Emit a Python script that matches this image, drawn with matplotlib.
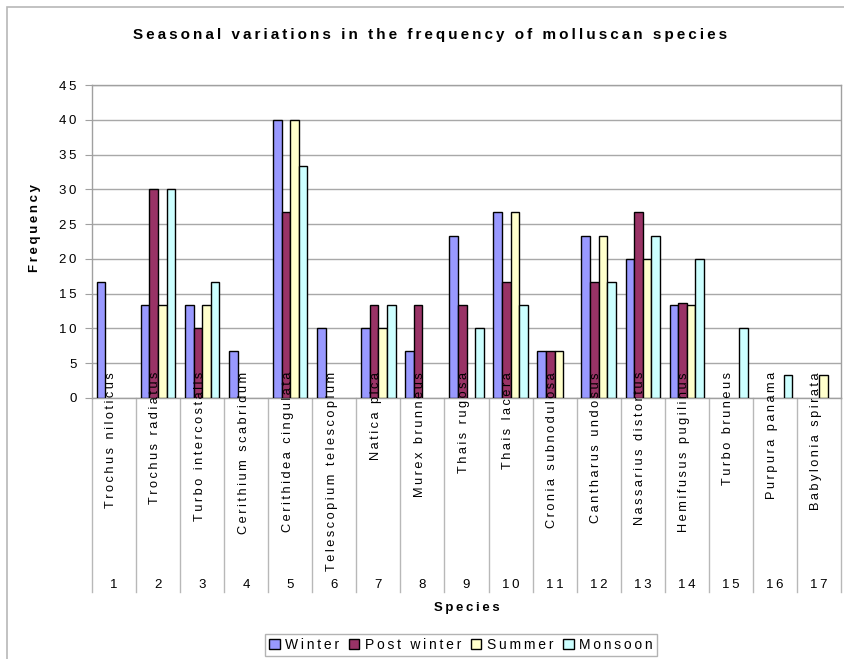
import matplotlib
matplotlib.use('Agg')
import matplotlib.pyplot as plt
import numpy as np
from matplotlib.patches import Rectangle, Patch
from matplotlib.lines import Line2D
import matplotlib.transforms as mtransforms

plt.rcParams['font.family'] = ['Liberation Sans', 'DejaVu Sans']

species = ['Trochus niloticus', 'Trochus radiatus', 'Turbo intercostalis',
           'Cerithium scabridum', 'Cerithidea cingulata', 'Telescopium telescopium',
           'Natica pica', 'Murex brunneus', 'Thais rugosa', 'Thais lacera',
           'Cronia subnodulosa', 'Cantharus undosus', 'Nassarius distortus',
           'Hemifusus pugilinus', 'Turbo bruneus', 'Purpura panama', 'Babylonia spirata']
numbers = [str(i) for i in range(1, 18)]

winter = [16.7, 13.3, 13.3, 6.7, 40, 10, 10, 6.7, 23.3, 26.7, 6.7, 23.3, 20, 13.3, 0, 0, 0]
post_winter = [0, 30, 10, 0, 26.7, 0, 13.3, 13.3, 13.3, 16.7, 6.7, 16.7, 26.7, 13.6, 0, 0, 0]
summer = [0, 13.3, 13.3, 0, 40, 0, 10, 0, 0, 26.7, 6.7, 23.3, 20, 13.3, 0, 0, 3.3]
monsoon = [0, 30, 16.7, 0, 33.3, 0, 13.3, 0, 10, 13.3, 0, 16.7, 23.3, 20, 10, 3.3, 0]

seasons = ['Winter', 'Post winter', 'Summer', 'Monsoon']
colors = ['#9999FF', '#993366', '#FFFFCC', '#CCFFFF']
yticks = [0, 5, 10, 15, 20, 25, 30, 35, 40, 45]

SP = '\u2009'


def spaced(s, sep=SP):
    return sep.join(list(s))


W, H = 844, 659
fig = plt.figure(figsize=(W / 100, H / 100), dpi=100)
ax = fig.add_axes([92 / W, 1 - 398 / H, (841 - 92) / W, (398 - 85) / H])

# outer chart border
fig.patches.append(Rectangle((7 / W, -0.05), 1.0, 1 - 7 / H + 0.05, transform=fig.transFigure,
                             fill=False, edgecolor='#b8b8b8', linewidth=1.2))

x = np.arange(len(species))
bw = 0.195
for k, (vals, c) in enumerate(zip([winter, post_winter, summer, monsoon], colors)):
    vals = np.array(vals, dtype=float)
    keep = vals > 0  # empty seasons are not drawn
    ax.bar(x[keep] + (k - 1.5) * bw, vals[keep], bw, color=c, edgecolor='black',
           linewidth=1.0, zorder=3)

ax.set_xlim(-0.5, len(species) - 0.5)
ax.set_ylim(0, 45)
ax.set_yticks(yticks)
ax.set_yticklabels([spaced(str(t)) for t in yticks], fontsize=9.5)
ax.set_xticks([])
ax.grid(axis='y', color='#a8a8a8', linewidth=1.0, zorder=0)
for s in ax.spines.values():
    s.set_color('#a0a0a0')
    s.set_linewidth(1.0)
ax.tick_params(axis='y', length=5, color='#a0a0a0', pad=6)

trans = mtransforms.blended_transform_factory(ax.transData, ax.transAxes)
# category separators
for b in np.arange(-0.5, len(species) + 0.5, 1):
    ax.add_line(Line2D([b, b], [0, -0.62], transform=trans, color='#b8b8b8',
                       linewidth=1.0, clip_on=False))
for i, name in enumerate(species):
    ax.text(i - 0.06, 0.083, spaced(name), transform=trans, rotation=90, ha='center', va='top',
            fontsize=9.2, zorder=5, clip_on=False)
    ax.text(i, -0.597, spaced(numbers[i]), transform=trans, ha='center', va='center',
            fontsize=9.5, clip_on=False)

ax.text(0.5, -0.67, spaced('Species'), transform=ax.transAxes, ha='center', va='center',
        fontsize=9.5, fontweight='bold')
fig.text(35 / W, 1 - 228 / H, spaced('Frequency'), rotation=90, ha='center', va='center',
         fontsize=9.5, fontweight='bold')
fig.text(430 / W, 1 - 35 / H, spaced('Seasonal variations in the frequency of molluscan species'),
         ha='center', va='center', fontsize=11, fontweight='bold')

handles = [Patch(facecolor=c, edgecolor='black', linewidth=1.0) for c in colors]
leg = fig.legend(handles, [spaced(s) for s in seasons], loc='center', ncol=4,
                 bbox_to_anchor=(461 / W, 1 - 645 / H), fontsize=10, frameon=True, fancybox=False,
                 edgecolor='#a0a0a0', handlelength=0.75, handleheight=0.75, handletextpad=0.4,
                 columnspacing=0.7, borderpad=0.3)
leg.get_frame().set_linewidth(1.0)

fig.savefig('out.png', dpi=100)
